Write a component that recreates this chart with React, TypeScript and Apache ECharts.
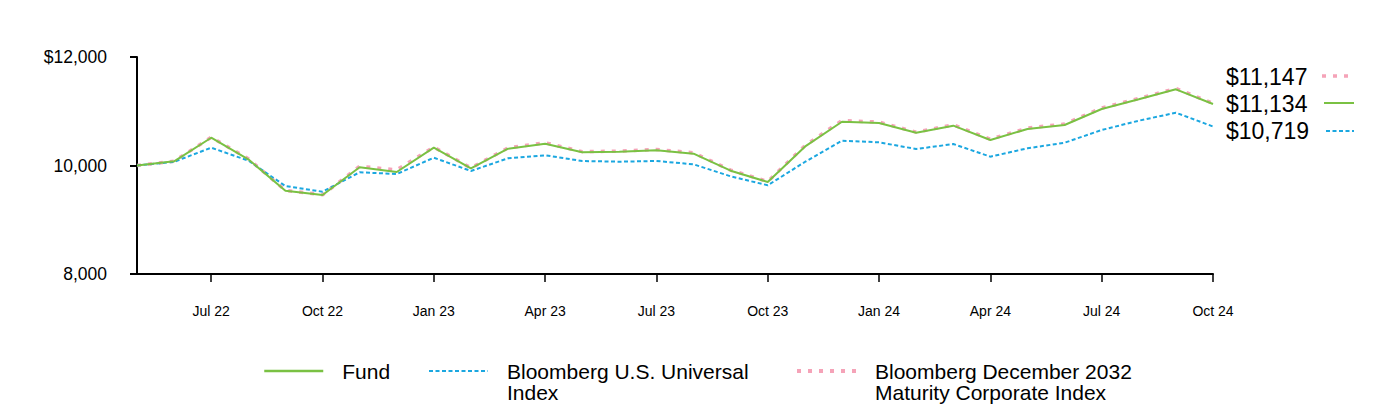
import React, { useEffect, useRef } from "react";
import * as echarts from "echarts";

const categories = [
  "May 22", "Jun 22", "Jul 22", "Aug 22", "Sep 22", "Oct 22", "Nov 22", "Dec 22",
  "Jan 23", "Feb 23", "Mar 23", "Apr 23", "May 23", "Jun 23", "Jul 23", "Aug 23",
  "Sep 23", "Oct 23", "Nov 23", "Dec 23", "Jan 24", "Feb 24", "Mar 24", "Apr 24",
  "May 24", "Jun 24", "Jul 24", "Aug 24", "Sep 24", "Oct 24",
];

const fundValues = [
  10000, 10077, 10512, 10114, 9536, 9456, 9967, 9880, 10328, 9948, 10310, 10402,
  10243, 10254, 10280, 10218, 9904, 9696, 10347, 10807, 10783, 10605, 10734, 10470,
  10673, 10747, 11041, 11220, 11404, 11134,
];

const universalValues = [
  10000, 10068, 10328, 10090, 9622, 9517, 9875, 9843, 10144, 9899, 10133, 10188,
  10083, 10070, 10083, 10022, 9800, 9635, 10065, 10457, 10427, 10304, 10396, 10163,
  10317, 10420, 10654, 10826, 10973, 10719,
];

const corporateValues = [
  10000, 10080, 10520, 10125, 9540, 9460, 9985, 9920, 10340, 9955, 10325, 10420,
  10255, 10265, 10295, 10235, 9915, 9705, 10365, 10830, 10800, 10615, 10750, 10485,
  10690, 10765, 11060, 11235, 11420, 11147,
];

const yTicks = [8000, 10000, 12000];

const seriesNames = [
  "Fund",
  "Bloomberg U.S. Universal\nIndex",
  "Bloomberg December 2032\nMaturity Corporate Index",
];

const GREEN = "#7ac143";
const BLUE = "#1ba7e0";
const PINK = "#f5a3b8";
const FONT = '"Liberation Sans", Arial, sans-serif';

const fmt = (v: number) => "$" + v.toLocaleString("en-US");

export default function App() {
  const ref = useRef<HTMLDivElement>(null);

  useEffect(() => {
    if (!ref.current) return;
    const chart = echarts.init(ref.current, undefined, { renderer: "svg" });
    const last = categories.length - 1;
    const tickFn = (i: number) => i % 3 === 2;

    const legendBase = {
      orient: "horizontal",
      padding: 0,
      itemWidth: 59,
      itemHeight: 14,
      itemStyle: { color: "rgba(0,0,0,0)", borderColor: "rgba(0,0,0,0)", borderWidth: 0, opacity: 0 },
    };
    const legendText = {
      fontSize: 21,
      lineHeight: 21,
      color: "#000",
      fontFamily: FONT,
      padding: [0, 0, 0, 14],
    };

    chart.setOption({
      animation: false,
      grid: { left: 137, right: 183, top: 57, bottom: 138 },
      xAxis: {
        type: "category",
        boundaryGap: false,
        data: categories,
        axisLine: { lineStyle: { color: "#000", width: 2 } },
        axisTick: {
          show: true,
          interval: tickFn,
          length: 8,
          lineStyle: { color: "#000", width: 1.5 },
        },
        axisLabel: {
          interval: tickFn,
          margin: 30,
          fontSize: 14,
          color: "#000",
          fontFamily: FONT,
        },
        splitLine: { show: false },
      },
      yAxis: {
        type: "value",
        min: yTicks[0],
        max: yTicks[yTicks.length - 1],
        interval: 2000,
        axisLine: { show: true, lineStyle: { color: "#000", width: 2 } },
        axisTick: { show: true, length: 7, lineStyle: { color: "#000", width: 2 } },
        axisLabel: {
          margin: 30,
          fontSize: 17.5,
          color: "#000",
          fontFamily: FONT,
          formatter: (v: number) =>
            v === yTicks[yTicks.length - 1] ? fmt(v) : v.toLocaleString("en-US"),
        },
        splitLine: { show: false },
      },
      legend: [
        {
          ...legendBase,
          left: 263,
          top: 360.5,
          data: [seriesNames[0]],
          lineStyle: { width: 2.5 },
          textStyle: legendText,
        },
        {
          ...legendBase,
          left: 428,
          top: 339.5,
          data: [seriesNames[1]],
          formatter: (name: string) => "\n" + name,
          lineStyle: { width: 2 },
          textStyle: legendText,
        },
        {
          ...legendBase,
          left: 795,
          top: 339.5,
          data: [seriesNames[2]],
          formatter: (name: string) => "\n" + name,
          lineStyle: { width: 4 },
          textStyle: legendText,
        },
      ],
      series: [
        {
          name: seriesNames[2],
          type: "line",
          data: corporateValues,
          symbol: "none",
          color: PINK,
          lineStyle: { color: PINK, width: 3.5, type: [4, 7] },
          z: 1,
        },
        {
          name: seriesNames[1],
          type: "line",
          data: universalValues,
          symbol: "none",
          color: BLUE,
          lineStyle: { color: BLUE, width: 2, type: [4, 2.5] },
          z: 2,
        },
        {
          name: seriesNames[0],
          type: "line",
          data: fundValues,
          symbol: "none",
          color: GREEN,
          lineStyle: { color: GREEN, width: 2 },
          z: 3,
        },
      ],
      graphic: [
        {
          type: "text",
          style: { text: fmt(corporateValues[last]), x: 1226, y: 77, fill: "#000", font: `23px ${FONT}`, verticalAlign: "middle" },
        },
        {
          type: "text",
          style: { text: fmt(fundValues[last]), x: 1226, y: 104, fill: "#000", font: `23px ${FONT}`, verticalAlign: "middle" },
        },
        {
          type: "text",
          style: { text: fmt(universalValues[last]), x: 1226, y: 131, fill: "#000", font: `23px ${FONT}`, verticalAlign: "middle" },
        },
        {
          type: "line",
          shape: { x1: 1322, y1: 76, x2: 1354, y2: 76 },
          style: { stroke: PINK, lineWidth: 3.5, lineDash: [4, 7] },
        },
        {
          type: "line",
          shape: { x1: 1324, y1: 103, x2: 1354, y2: 103 },
          style: { stroke: GREEN, lineWidth: 2 },
        },
        {
          type: "line",
          shape: { x1: 1326, y1: 131, x2: 1354, y2: 131 },
          style: { stroke: BLUE, lineWidth: 2, lineDash: [4, 2.5] },
        },
      ],
    });

    return () => chart.dispose();
  }, []);

  return (
    <div
      ref={ref}
      style={{ position: "absolute", left: 0, top: 0, width: 1396, height: 412 }}
    />
  );
}
